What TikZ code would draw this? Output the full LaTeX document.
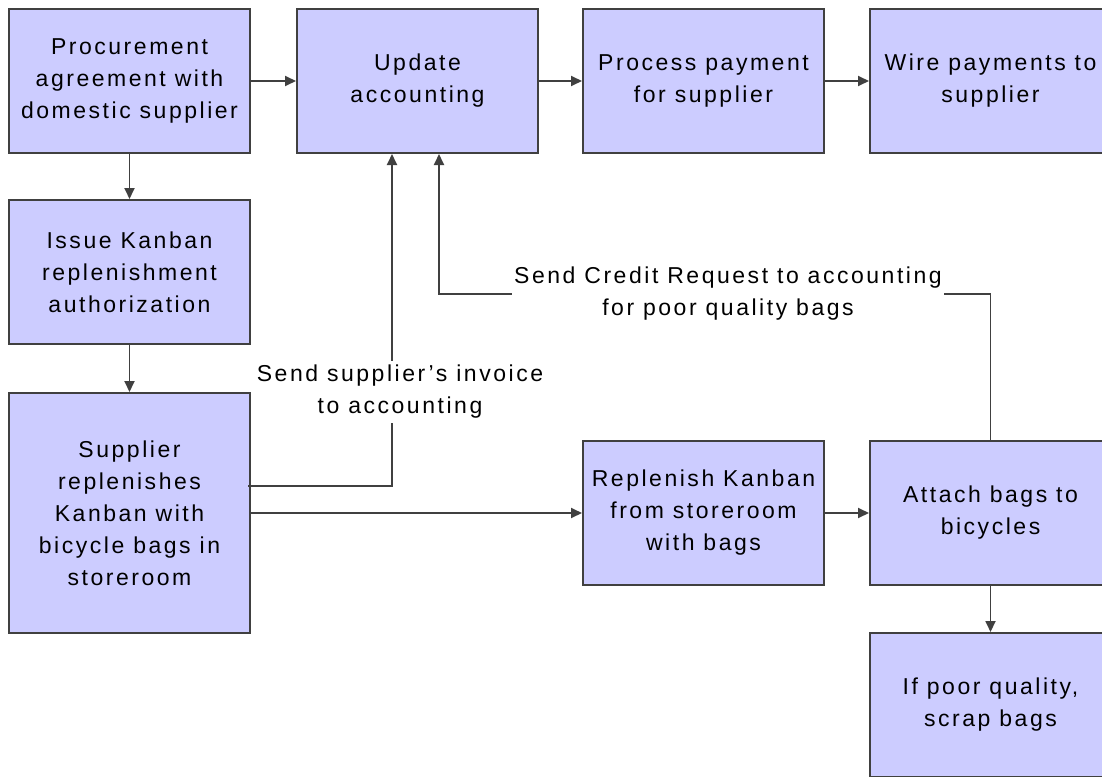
\documentclass[tikz,border=0pt]{standalone}
\usepackage{fontspec}
\setmainfont{Liberation Sans}[LetterSpace=11]
\usetikzlibrary{arrows.meta}
\definecolor{boxfill}{HTML}{CCCCFF}
\definecolor{edge}{HTML}{404040}
\begin{document}
\begin{tikzpicture}[x=1pt,y=-1pt,
  font=\fontsize{23}{32}\selectfont,
  stepbox/.style={draw=edge,line width=2pt,fill=boxfill,align=center,
    minimum width=241pt,minimum height=144pt,inner sep=0pt,text=black},
  conn/.style={draw=edge,line width=1.8pt,-{Triangle[length=11pt,width=10pt]}},
  lbl/.style={fill=white,align=center,inner xsep=3pt,inner ysep=4pt,text=black}]
\useasboundingbox (0,0) rectangle (1102,776);
\clip (0,0) rectangle (1102,776);
\fill[white] (0,0) rectangle (1102,776);

% process boxes
\node[stepbox] (proc)   at (129.5,81)  {Procurement\\agreement with\\domestic supplier};
\node[stepbox] (upd)    at (417.5,81)  {Update\\accounting};
\node[stepbox] (pay)    at (703.5,81)  {Process payment\\for supplier};
\node[stepbox] (wire)   at (990.5,81)  {Wire payments to\\supplier};
\node[stepbox] (issue)  at (129.5,272) {Issue Kanban\\replenishment\\authorization};
\node[stepbox,minimum height=240pt] (supp) at (129.5,513)
  {Supplier\\replenishes\\Kanban with\\bicycle bags in\\storeroom};
\node[stepbox] (repl)   at (703.5,513) {Replenish Kanban\\from storeroom\\with bags};
\node[stepbox] (attach) at (990.5,513) {Attach bags to\\bicycles};
\node[stepbox] (scrap)  at (990.5,705) {If poor quality,\\scrap bags};

% main flow
\draw[conn] (proc) -- (upd);
\draw[conn] (upd) -- (pay);
\draw[conn] (pay) -- (wire);
\draw[conn] (proc) -- (issue);
\draw[conn] (issue) -- (supp);
\draw[conn] (supp) -- (repl);
\draw[conn] (repl) -- (attach);
\draw[conn] (attach) -- (scrap);

% invoice back to accounting
\draw[conn] ([xshift=-3pt,yshift=27pt]supp.east) -| ([xshift=-25.5pt]upd.south);
\node[lbl] (invlbl) at (400,392) {Send supplier's invoice\\to accounting};

% credit request back to accounting
\coordinate (crd) at (439,294);
\draw[conn] (attach.north) |- (crd) -- ([xshift=21.5pt]upd.south);
\node[lbl,inner xsep=2pt,inner ysep=1pt] (crlbl) at (728,294)
  {Send Credit Request to accounting\\for poor quality bags};
\end{tikzpicture}
\end{document}
